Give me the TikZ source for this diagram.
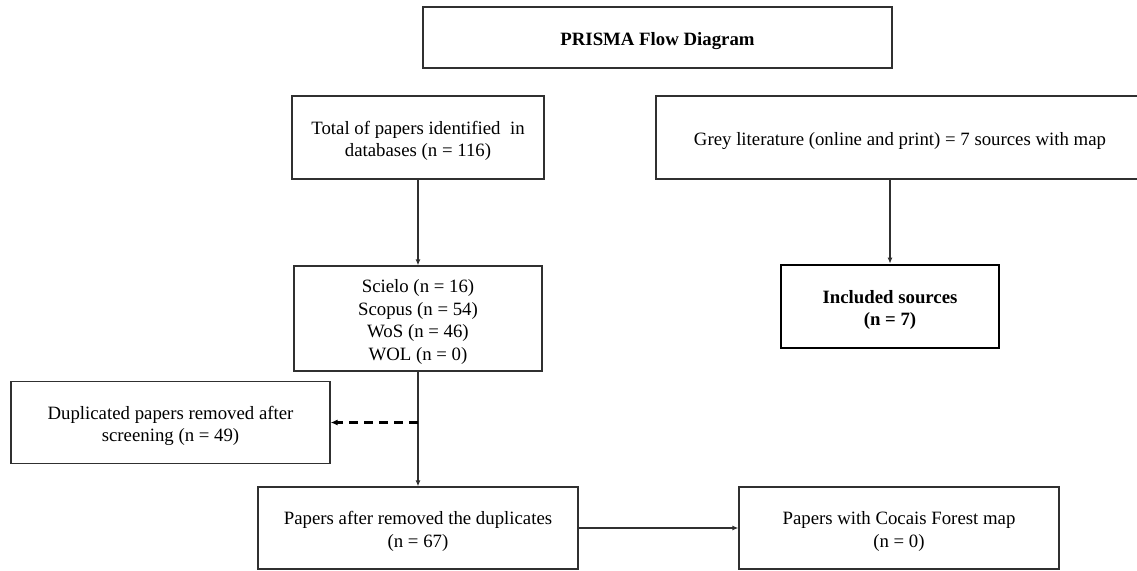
\documentclass[tikz,border=0pt]{standalone}
\usepackage{fontspec}
\setmainfont{Liberation Serif}
\usetikzlibrary{arrows.meta}
\begin{document}
\begin{tikzpicture}[x=1pt,y=-1pt,line cap=rect,
	prismabox/.style={draw=custcol_30_30_30, line width=1.2pt, inner sep=0pt, align=center, font=\prismafont, text=custcol_0_0_0},
	nlines/.style={text height={(#1-1)*22.6pt+20pt}},
	arr/.style={draw=custcol_30_30_30, line width=1.3pt, -{Latex[length=6pt,width=5pt]}},
	dasharr/.style={draw=custcol_0_0_0, line width=2.2pt, line cap=butt, dash pattern=on 9pt off 6pt, -{Latex[length=7pt,width=6pt]}}]
	\def\prismafont{\fontsize{18.8pt}{22.6pt}\selectfont} % Times-like, same as original figure
	\definecolor{custcol_0_0_0}{RGB}{0, 0, 0}
	\definecolor{custcol_30_30_30}{RGB}{48, 48, 48}
	\useasboundingbox (0.0,0.0) rectangle (1137.0,570.0);
	\clip (0.0,0.0) rectangle (1137.0,570.0);
	\node[prismabox, nlines=1, minimum width=469, minimum height=61, font=\prismafont\bfseries] (title) at (657.5,37.5) {PRISMA Flow Diagram};
	\node[prismabox, nlines=2, minimum width=252, minimum height=83] (total) at (418.0,137.5) {Total of papers identified\ \ in\\databases (n = 116)};
	\node[prismabox, nlines=1, minimum width=488, minimum height=83] (grey) at (900.0,137.5) {Grey literature (online and print) = 7 sources with map};
	\node[prismabox, nlines=4, minimum width=248, minimum height=105] (scielo) at (418.0,318.5) {Scielo (n = 16)\\Scopus (n = 54)\\WoS (n = 46)\\WOL (n = 0)};
	\node[prismabox, nlines=2, line width=2.6pt, draw=custcol_0_0_0, minimum width=218, minimum height=83, font=\prismafont\bfseries] (included) at (890.0,306.5) {Included sources\\(n = 7)};
	\node[prismabox, nlines=2, minimum width=319, minimum height=82] (dup) at (170.5,422.5) {Duplicated papers removed after\\screening (n = 49)};
	\node[prismabox, nlines=2, minimum width=320, minimum height=82] (after) at (418.0,528.0) {Papers after removed the duplicates\\(n = 67)};
	\node[prismabox, nlines=2, minimum width=320, minimum height=82] (cocais) at (899.0,528.0) {Papers with Cocais Forest map\\(n = 0)};
	\draw [arr] (total.south) -- (total.south |- scielo.north);
	\draw [arr] (included.north |- grey.south) -- (included.north);
	\draw [arr] (scielo.south) -- (scielo.south |- after.north);
	\draw [dasharr] (scielo.south |- dup.east) -- (dup.east);
	\draw [arr] (after.east) -- (cocais.west);
\end{tikzpicture}
\end{document}
